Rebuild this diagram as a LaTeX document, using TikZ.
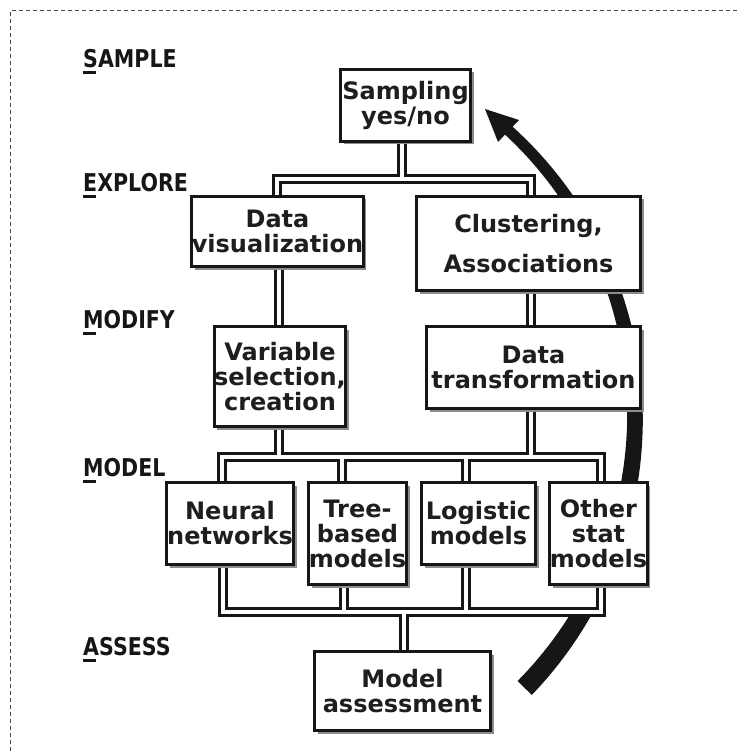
\documentclass[tikz,border=0pt]{standalone}
\usepackage{fontspec}
\setmainfont{DejaVu Sans}
\newfontfamily\stagefont{DejaVu Sans}[FakeStretch=0.84]
\usetikzlibrary{shadows}

\definecolor{ink}{HTML}{161616}
\definecolor{textink}{HTML}{1E1E1E}
\definecolor{frameink}{HTML}{4A4A4A}

\pgfdeclarelayer{under}
\pgfdeclarelayer{pipes}
\pgfsetlayers{under,pipes,main}

\newcommand\boxtext{\fontsize{24}{25}\selectfont\bfseries\color{textink}}

\tikzset{
  stepbox/.style={draw=ink, line width=3pt, fill=white, inner sep=0pt,
    align=center, font=\boxtext,
    drop shadow={shadow xshift=3pt, shadow yshift=-3pt, fill=black!45, opacity=1}},
  stage/.style={anchor=base west, inner sep=0pt,
    font=\stagefont\bfseries\fontsize{24.5}{25}\selectfont, text=ink},
  accent/.style={draw=ink, line width=3pt},
  pipeouter/.style={draw=ink, line width=10pt},
  pipeinner/.style={draw=white, line width=4.5pt},
  frame/.style={draw=frameink, line width=1pt, dash pattern=on 4pt off 3pt},
}

% the network of hollow pipes joining the boxes, drawn once per stroke style
\newcommand\pipenet[1]{%
  \draw[#1] (samp.south -| eb) -- (eb);
  \draw[#1] (datavis.north -| eL) -- (eL) -- (eR) -- (clust.north -| eR);
  \draw[#1] (datavis.south -| vx) -- (varsel.north -| vx);
  \draw[#1] (clust.south -| eR) -- (datatr.north -| eR);
  \draw[#1] (varsel.south -| vx) -- (vx |- mL);
  \draw[#1] (datatr.south -| eR) -- (eR |- mL);
  \draw[#1] (neural.north -| mL) -- (mL) -- (mR) -- (other.north -| mR);
  \draw[#1] (mT) -- (tree.north -| mT);
  \draw[#1] (mG) -- (logistic.north -| mG);
  \draw[#1] (neural.south -| bL) -- (bL) -- (bR) -- (other.south -| bR);
  \draw[#1] (tree.south -| bT) -- (bT);
  \draw[#1] (logistic.south -| bG) -- (bG);
  \draw[#1] (assess.north -| bA) -- (bA);
}

\begin{document}
\begin{tikzpicture}[x=1pt, y=-1pt]
\useasboundingbox (0,0) rectangle (738,751);

% ---- boxes ----
\node[stepbox, minimum width=130, minimum height=72] (samp) at (405.5,105.5) {Sampling\\yes/no};
\node[stepbox, minimum width=168, minimum height=70] (datavis) at (277.5,231.5) {Data\\visualization};
\node[stepbox, minimum width=224, minimum height=94,
      font=\boxtext\fontsize{24}{40}\selectfont] (clust) at (528.5,243.5) {Clustering,\\Associations};
\node[stepbox, minimum width=131, minimum height=100] (varsel) at (280,376.5) {Variable\\selection,\\creation};
\node[stepbox, minimum width=214, minimum height=82] (datatr) at (533.5,367.5) {Data\\transformation};
\node[stepbox, minimum width=127, minimum height=82] (neural) at (230,523.5) {Neural\\networks};
\node[stepbox, minimum width=98, minimum height=102] (tree) at (357.5,533.5) {Tree-\\based\\models};
\node[stepbox, minimum width=114, minimum height=82] (logistic) at (478.5,523.5) {Logistic\\models};
\node[stepbox, minimum width=94, minimum height=102] (other) at (598.5,533.5) {Other\\stat\\models};
\node[stepbox, minimum width=176, minimum height=79] (assess) at (402.5,691) {Model\\assessment};

% ---- stage labels ----
\node[stage] (lsample) at (83,68) {SAMPLE};
\node[stage] (lexplore) at (83,192) {EXPLORE};
\node[stage] (lmodify) at (83,328) {MODIFY};
\node[stage] (lmodel) at (83,476) {MODEL};
\node[stage] (lassess) at (83,655) {ASSESS};
\foreach \l in {lsample,lexplore,lmodify,lmodel,lassess}
  \draw[accent] ([yshift=-5pt]\l.base west) -- ++(13,0);

% ---- junction points of the pipes ----
\coordinate (eb) at (402,179);
\coordinate (eL) at (277,179);
\coordinate (eR) at (531,179);
\coordinate (vx) at (279,300);
\coordinate (mL) at (222,457);
\coordinate (mT) at (342,457);
\coordinate (mG) at (466,457);
\coordinate (mR) at (601,457);
\coordinate (bL) at (223,612);
\coordinate (bT) at (344,612);
\coordinate (bG) at (466,612);
\coordinate (bR) at (601,612);
\coordinate (bA) at (404,612);

\begin{pgfonlayer}{pipes}
  \pipenet{pipeouter}
  \pipenet{pipeinner}
\end{pgfonlayer}

% ---- dashed frame and the returning cycle arrow ----
\begin{pgfonlayer}{under}
  \draw[frame] (10.5,751) -- (10.5,10.5) -- (738,10.5);
  \fill[ink]
    plot[domain=-44.3:47.6, samples=80, variable=\t]
      ({247+(388+(15.6-0.098*\t)/2)*cos(\t)}, {417-(388+(15.6-0.098*\t)/2)*sin(\t)})
    -- plot[domain=47.6:-44.3, samples=80, variable=\t]
      ({247+(388-(15.6-0.098*\t)/2)*cos(\t)}, {417-(388-(15.6-0.098*\t)/2)*sin(\t)})
    -- cycle;
  \coordinate (tip) at (485,109);
  \coordinate (wingA) at (519,120);
  \coordinate (wingB) at (498,142);
  \fill[ink] (tip) -- (wingA) -- (wingB) -- cycle;
  % the model block sits on a white ground that hides the arrow
  \fill[white] (165,481) rectangle (647,617);
\end{pgfonlayer}
\end{tikzpicture}
\end{document}
